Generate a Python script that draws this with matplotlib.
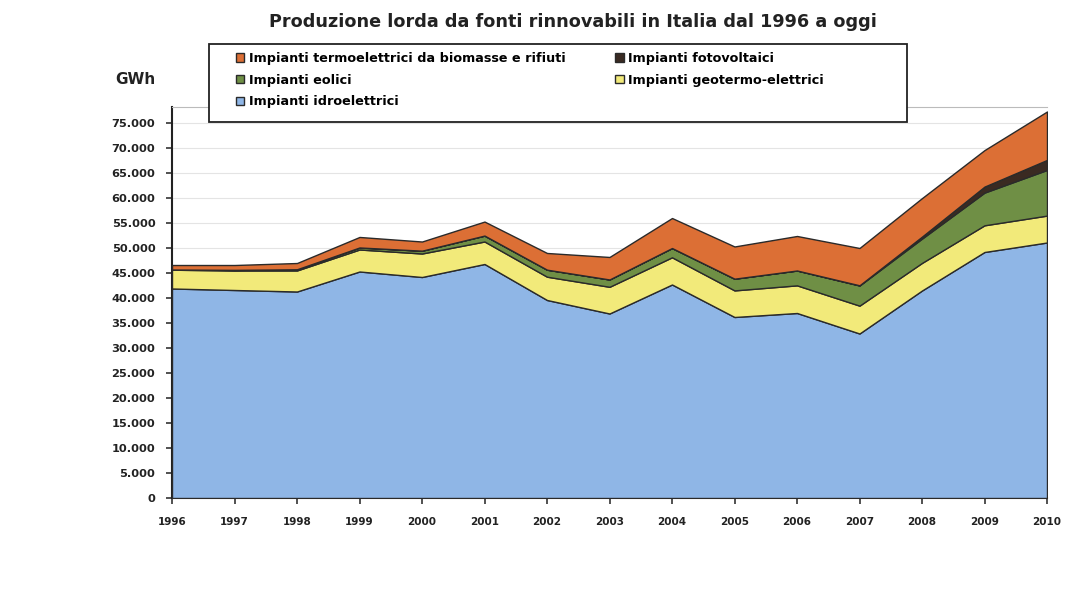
import matplotlib.pyplot as plt
from matplotlib.patches import Rectangle
from matplotlib.ticker import FuncFormatter

plt.rcParams['font.family'] = ['DejaVu Sans']
plt.rcParams['font.weight'] = 'bold'

# data (GWh)
anni = [1996, 1997, 1998, 1999, 2000, 2001, 2002, 2003, 2004, 2005, 2006, 2007, 2008, 2009, 2010]
idro = [41900, 41600, 41300, 45300, 44200, 46800, 39600, 36900, 42700, 36200, 37000, 32900, 41500, 49200, 51100]
geotermo = [3760, 3900, 4210, 4400, 4700, 4500, 4660, 5340, 5440, 5320, 5530, 5570, 5520, 5340, 5380]
eolici = [30, 120, 230, 400, 560, 1180, 1400, 1460, 1850, 2340, 2970, 4030, 4860, 6540, 9130]
fotovoltaici = [7, 7, 6, 6, 6, 5, 4, 5, 4, 4, 2, 39, 400, 1200, 2000]
biomasse = [900, 970, 1250, 2100, 1830, 2800, 3340, 4500, 6000, 6440, 6900, 7460, 7700, 7300, 9690]

nomi = ['Impianti idroelettrici', 'Impianti geotermo-elettrici', 'Impianti eolici',
        'Impianti fotovoltaici', 'Impianti termoelettrici da biomasse e rifiuti']
colori = ['#8fb6e6', '#f2ea7a', '#6f8f45', '#3a2a22', '#dc6f35']

W, H = 1065, 594
fig = plt.figure(figsize=(W / 100, H / 100), dpi=100)
ax = fig.add_axes([172 / W, 1 - 498 / H, (1047 - 172) / W, (498 - 107) / H])

polys = ax.stackplot(anni, idro, geotermo, eolici, fotovoltaici, biomasse,
                     colors=colori, edgecolor='#2a2a2a', linewidth=1.0, zorder=3)

ax.set_xlim(1996, 2010)
ax.set_ylim(0, 78200)
ax.set_xticks(anni)
ax.set_yticks(range(0, 80000, 5000))
ax.yaxis.set_major_formatter(FuncFormatter(lambda v, p: f'{int(v):,}'.replace(',', '.')))
ax.tick_params(axis='both', length=4, width=1.2, color='#333333', labelcolor='#222222')
ax.tick_params(axis='y', labelsize=8.2, pad=8)
ax.tick_params(axis='x', labelsize=7.5, pad=10)
ax.grid(axis='y', color='#e4e4e4', linewidth=0.8, zorder=0)
for s in ['left', 'bottom']:
    ax.spines[s].set_color('#222222')
    ax.spines[s].set_linewidth(1.5)
ax.spines['top'].set_color('#bbbbbb')
ax.spines['right'].set_visible(False)

fig.text(573 / W, 1 - 22 / H, 'Produzione lorda da fonti rinnovabili in Italia dal 1996 a oggi',
         ha='center', va='center', fontsize=12.7, fontweight='bold', color='#222222')
fig.text(115 / W, 1 - 79 / H, 'GWh', ha='left', va='center', fontsize=11,
         fontweight='bold', color='#222222')

# legend frame
fig.patches.append(Rectangle((209 / W, 1 - 122 / H), (907 - 209) / W, (122 - 44) / H,
                             transform=fig.transFigure, facecolor='white',
                             edgecolor='#222222', linewidth=1.3, zorder=4))

ordine = [4, 2, 0, 3, 1]
leg = fig.legend([polys[i] for i in ordine], [nomi[i] for i in ordine], ncol=2,
                 loc='upper left', bbox_to_anchor=(236 / W, 1 - 52 / H), fontsize=9.2,
                 frameon=False, borderpad=0, borderaxespad=0,
                 handlelength=0.65, handleheight=0.65, handletextpad=0.35,
                 columnspacing=3.9, labelspacing=0.68)
leg.set_zorder(5)

fig.savefig('out.png', dpi=100)
